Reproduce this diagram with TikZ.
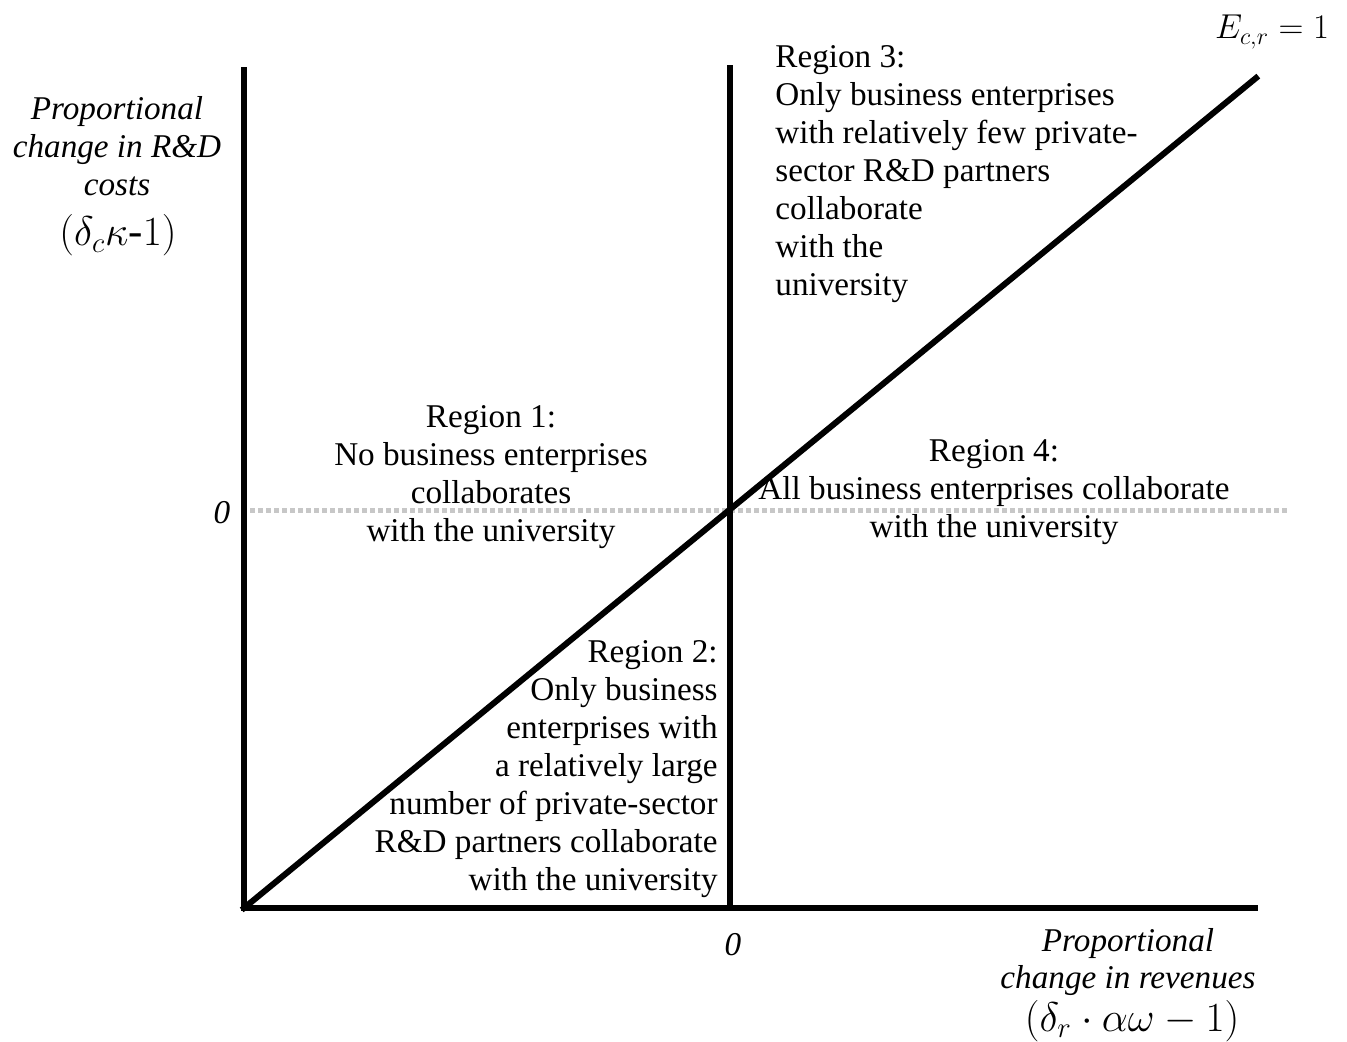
\documentclass[tikz,border=0pt]{standalone}
\usepackage{fontspec}
\setmainfont{Liberation Serif}
\begin{document}
\begin{tikzpicture}[x=0.5pt,y=-0.5pt,
  axis/.style={line width=3pt, line cap=rect},
  zeroline/.style={line width=2.5pt, draw=black!22, dash pattern=on 2.5pt off 1.5pt},
  txt/.style={inner sep=0pt, font=\fontsize{16.6}{19}\selectfont},
  itxt/.style={inner sep=0pt, font=\fontsize{16.6}{19}\selectfont\itshape},
  mtxt/.style={inner sep=0pt, font=\fontsize{18}{22}\selectfont},
  mbig/.style={inner sep=0pt, font=\fontsize{21.5}{24}\selectfont}]
\useasboundingbox (0,0) rectangle (1347,1042);
% axes
\coordinate (O) at (244,908);
\coordinate (Ytop) at (244,70);
\coordinate (Xend) at (1255,908);
\coordinate (Mtop) at (730,68);
\coordinate (Mbot) at (730,908);
\coordinate (Zl) at (250,510);
\coordinate (Zr) at (1290,510);
\coordinate (Dend) at (1256,78);
\draw[zeroline] (Zl) -- (Zr);
\draw[axis] (Ytop) -- (O) -- (Xend);
\draw[axis] (Mtop) -- (Mbot);
\draw[axis] (O) -- (Dend);
% labels
\node[mtxt, anchor=base] (elab) at (1272,39) {$E_{c,r}=1$};
\node[itxt, anchor=north, align=center] (ylab) at (117,96) {Proportional\\change in R\&D\\costs};
\node[mbig, anchor=base] (ymath) at (118,246) {$(\delta_c\kappa$-$1)$};
\node[itxt, anchor=base] (zy) at (222,523) {0};
\node[itxt, anchor=base] (zx) at (733,955) {0};
\node[itxt, anchor=north, align=center, font=\fontsize{16.6}{18.3}\selectfont\itshape] (xlab) at (1128,928) {Proportional\\change in revenues};
\node[mbig, anchor=base] (xmath) at (1132,1031) {$(\delta_r\cdot\alpha\omega-1)$};
% regions
\node[txt, anchor=north west, align=left] (r3) at (775,45) {Region 3:\\Only business enterprises\\with relatively few private-\\sector R\&D partners\\collaborate\\with the\\university};
\node[txt, anchor=north, align=center] (r1) at (491,405) {Region 1:\\No business enterprises\\collaborates\\with the university};
\node[txt, anchor=north, align=center] (r4) at (994,439) {Region 4:\\All business enterprises collaborate\\with the university};
\node[txt, anchor=north east, align=right] (r2) at (718,640) {Region 2:\\Only business\\enterprises with\\a relatively large\\number of private-sector\\R\&D partners collaborate\\with the university};
\end{tikzpicture}
\end{document}
